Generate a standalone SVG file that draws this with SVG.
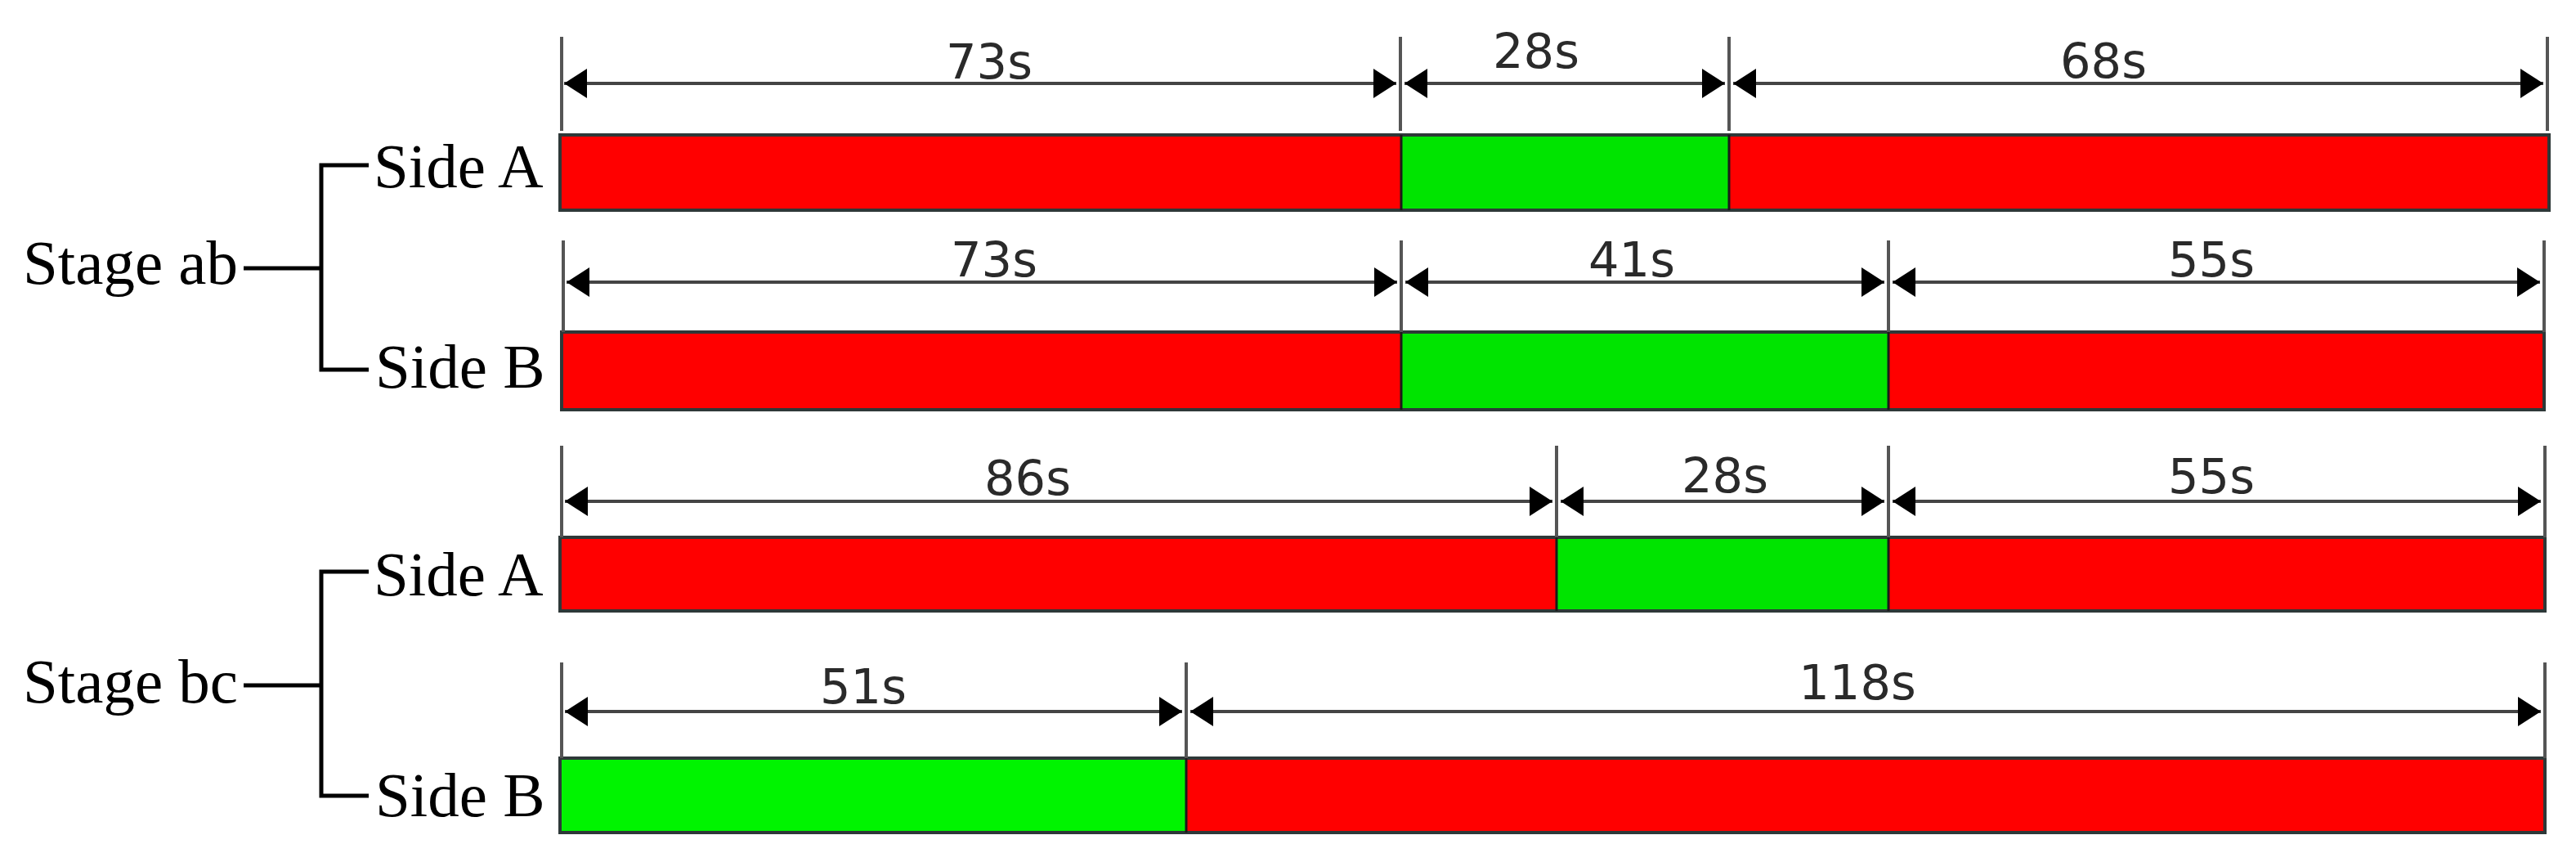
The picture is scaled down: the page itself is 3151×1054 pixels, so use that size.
<svg xmlns="http://www.w3.org/2000/svg" width="3151" height="1054" viewBox="0 0 3151 1054">
<style>
.lbl{font-family:"Liberation Serif","Times New Roman",serif;font-size:77px;fill:#000}
.dim{font-family:"DejaVu Sans",Verdana,sans-serif;font-size:59px;fill:#2a2a2a;text-anchor:middle}
.tree{fill:none;stroke:#000;stroke-width:5}
.tick{stroke:#555;stroke-width:4}
.dl{stroke:#444;stroke-width:4;marker-start:url(#ah);marker-end:url(#ah)}
.red{fill:#ff0000}
.grn{fill:#00e400}
.grn2{fill:#00f400}
.frame{fill:none;stroke:#2e3838;stroke-width:4}
.sep{stroke:#1a1a1a;stroke-width:3}
</style>
<defs>
<marker id="ah" markerUnits="userSpaceOnUse" markerWidth="30" markerHeight="38" refX="28" refY="18" orient="auto-start-reverse" viewBox="0 0 30 38">
<path d="M0,0 L28,18 L0,36 Z" fill="#000"/>
</marker>
</defs>
<rect width="3151" height="1054" fill="#fff"/>

<g id="stage-ab">
<text class="lbl" x="28" y="347">Stage ab</text>
<path class="tree" d="M298,328 H393 M451,202 H393 V452 H451"/>
</g>
<g id="stage-bc">
<text class="lbl" x="28" y="859">Stage bc</text>
<path class="tree" d="M298,838 H393 M451,699 H393 V973 H451"/>
</g>

<g id="ab-side-a">
<text class="lbl" x="457" y="229">Side A</text>
<rect class="red" x="685" y="165" width="1029" height="92"/>
<rect class="grn" x="1714" y="165" width="401" height="92"/>
<rect class="red" x="2115" y="165" width="1003" height="92"/>
<rect class="frame" x="685" y="165" width="2433" height="92"/>
<line class="sep" x1="1714" y1="165" x2="1714" y2="257"/>
<line class="sep" x1="2115" y1="165" x2="2115" y2="257"/>
<text class="dim" x="1210" y="96">73s</text>
<text class="dim" x="1879" y="83">28s</text>
<text class="dim" x="2573" y="95">68s</text>
</g>

<g id="ab-side-b">
<text class="lbl" x="459" y="474">Side B</text>
<rect class="red" x="687" y="406" width="1027" height="95"/>
<rect class="grn" x="1714" y="406" width="596" height="95"/>
<rect class="red" x="2310" y="406" width="802" height="95"/>
<rect class="frame" x="687" y="406" width="2425" height="95"/>
<line class="sep" x1="1714" y1="406" x2="1714" y2="501"/>
<line class="sep" x1="2310" y1="406" x2="2310" y2="501"/>
<text class="dim" x="1216" y="338">73s</text>
<text class="dim" x="1996" y="338">41s</text>
<text class="dim" x="2705" y="338">55s</text>
</g>

<g id="bc-side-a">
<text class="lbl" x="457" y="728">Side A</text>
<rect class="red" x="685" y="657" width="1219" height="90"/>
<rect class="grn" x="1904" y="657" width="406" height="90"/>
<rect class="red" x="2310" y="657" width="803" height="90"/>
<rect class="frame" x="685" y="657" width="2428" height="90"/>
<line class="sep" x1="1904" y1="657" x2="1904" y2="747"/>
<line class="sep" x1="2310" y1="657" x2="2310" y2="747"/>
<text class="dim" x="1257" y="605">86s</text>
<text class="dim" x="2110" y="602">28s</text>
<text class="dim" x="2705" y="603">55s</text>
</g>

<g id="bc-side-b">
<text class="lbl" x="459" y="998">Side B</text>
<rect class="grn2" x="685" y="927" width="766" height="91"/>
<rect class="red" x="1451" y="927" width="1662" height="91"/>
<rect class="frame" x="685" y="927" width="2428" height="91"/>
<line class="sep" x1="1451" y1="927" x2="1451" y2="1018"/>
<text class="dim" x="1056" y="860">51s</text>
<text class="dim" x="2272" y="855">118s</text>
</g>

<g id="connectors">
<line class="tick" x1="687" y1="45" x2="687" y2="160"/>
<line class="tick" x1="1713" y1="45" x2="1713" y2="160"/>
<line class="tick" x1="2115" y1="45" x2="2115" y2="160"/>
<line class="tick" x1="3116" y1="45" x2="3116" y2="160"/>
<line class="dl" x1="690" y1="102" x2="1708" y2="102"/>
<line class="dl" x1="1718" y1="102" x2="2110" y2="102"/>
<line class="dl" x1="2120" y1="102" x2="3111" y2="102"/>

<line class="tick" x1="689" y1="294" x2="689" y2="406"/>
<line class="tick" x1="1714" y1="294" x2="1714" y2="406"/>
<line class="tick" x1="2310" y1="294" x2="2310" y2="406"/>
<line class="tick" x1="3112" y1="294" x2="3112" y2="406"/>
<line class="dl" x1="693" y1="345" x2="1709" y2="345"/>
<line class="dl" x1="1719" y1="345" x2="2305" y2="345"/>
<line class="dl" x1="2315" y1="345" x2="3107" y2="345"/>

<line class="tick" x1="687" y1="545" x2="687" y2="657"/>
<line class="tick" x1="1904" y1="545" x2="1904" y2="657"/>
<line class="tick" x1="2310" y1="545" x2="2310" y2="657"/>
<line class="tick" x1="3113" y1="545" x2="3113" y2="657"/>
<line class="dl" x1="691" y1="613" x2="1899" y2="613"/>
<line class="dl" x1="1909" y1="613" x2="2305" y2="613"/>
<line class="dl" x1="2315" y1="613" x2="3108" y2="613"/>

<line class="tick" x1="687" y1="810" x2="687" y2="927"/>
<line class="tick" x1="1451" y1="810" x2="1451" y2="927"/>
<line class="tick" x1="3113" y1="810" x2="3113" y2="927"/>
<line class="dl" x1="691" y1="870" x2="1446" y2="870"/>
<line class="dl" x1="1456" y1="870" x2="3108" y2="870"/>
</g>
</svg>
